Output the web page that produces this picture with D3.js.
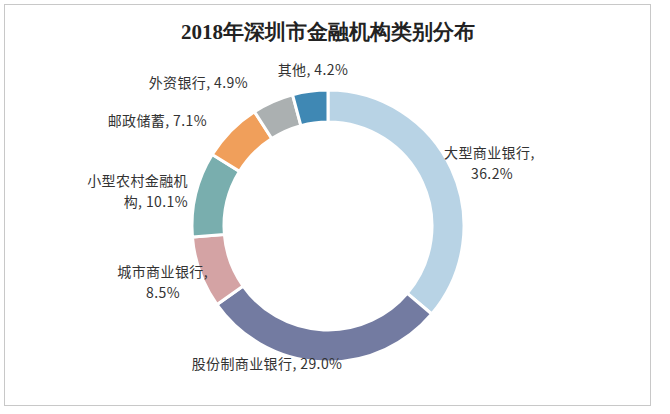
<!DOCTYPE html><html><head><meta charset="utf-8">
<script src="https://cdn.jsdelivr.net/npm/d3@7"></script>
<style>body{margin:0;background:#fff}</style></head><body>
<script>
const categories=["大型商业银行","股份制商业银行","城市商业银行","小型农村金融机构","邮政储蓄","外资银行","其他"];
const values=[36.2,29.0,8.5,10.1,7.1,4.9,4.2];
const colors=["#b8d3e5","#737ba1","#d4a3a4","#79aeae","#f09f5b","#abb0b1","#3f88b4"];
const labelLines=[["大型商业银行,","36.2%"],["股份制商业银行, 29.0%"],["城市商业银行,","8.5%"],["小型农村金融机","构, 10.1%"],["邮政储蓄, 7.1%"],["外资银行, 4.9%"],["其他, 4.2%"]];
const labelPos=[[444,158,"start",1],[267,369,"middle",0],[208,277,"end",0.5],[188,186,"end",0.5],[207,126,"end",1],[248,88,"end",1],[313,75,"middle",0]];
const W=670,H=414,cx=328,cy=226,R=136,r=104;
const svg=d3.select("body").append("svg").attr("width",W).attr("height",H);
svg.append("rect").attr("x",4.5).attr("y",4.5).attr("width",646).attr("height",401).attr("fill","#fff").attr("stroke","#c8c8c8");
svg.append("text").attr("x",cx).attr("y",39).attr("text-anchor","middle").attr("font-family","'Liberation Serif','DejaVu Serif',serif").attr("font-weight","bold").attr("font-size",21).attr("fill","#222").text("2018年深圳市金融机构类别分布");
const pie=d3.pie().sort(null).value(d=>d)(values);
const arc=d3.arc().innerRadius(r).outerRadius(R);
const g=svg.append("g").attr("transform",`translate(${cx},${cy})`);
g.selectAll("path").data(pie).join("path").attr("d",arc).attr("fill",(d,i)=>colors[i]).attr("stroke","#fff").attr("stroke-width",3);
labelPos.forEach((p,i)=>{
  const lines=labelLines[i];
  const t=svg.append("text").attr("font-family","'Noto Sans CJK SC','DejaVu Sans',sans-serif").attr("font-size",14).attr("letter-spacing",0.4).attr("fill","#333").attr("text-anchor",p[2]);
  lines.forEach((l,j)=>{
    let x=p[0];
    if(i===0&&j===1)x=p[0]+27;
    t.append("tspan").attr("x",x).attr("y",p[1]+j*21).text(l);
  });
  if(i===2) t.select("tspan:nth-child(2)").attr("x",180).attr("text-anchor","end");
});
</script></body></html>
